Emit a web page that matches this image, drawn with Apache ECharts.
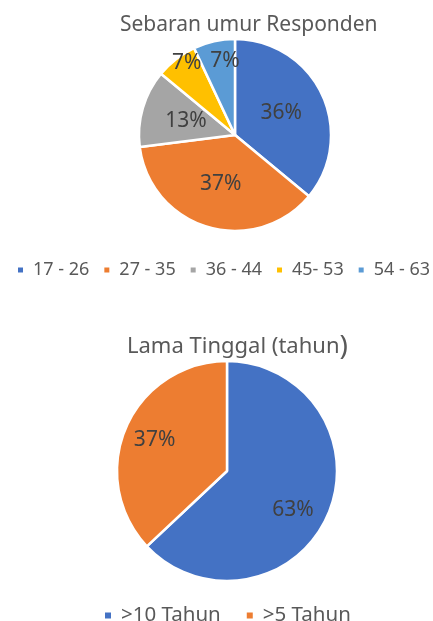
<!DOCTYPE html>
<html>
<head>
<meta charset="utf-8">
<script src="https://cdn.jsdelivr.net/npm/echarts@6/dist/echarts.min.js"></script>
<style>
  html, body { margin: 0; padding: 0; background: #fff; }
  #main { width: 433px; height: 621px; }
</style>
</head>
<body>
<div id="main"></div>
<script>
// data (percent)
var ageNames = ['17 - 26', '27 - 35', '36 - 44', '45- 53', '54 - 63'];
var agePercent = [36, 37, 13, 7, 7];
var stayNames = ['>10 Tahun', '>5 Tahun'];
var stayPercent = [63, 37];

var ageColors = ['#4472C4', '#ED7D31', '#A5A5A5', '#FFC000', '#5B9BD5'];
var stayColors = ['#4472C4', '#ED7D31'];

// label nudges: radial stretch from the half-radius spot, and a small turn (deg)
var agePush = [1, 1, 1, 1.7, 1.47];
var ageTurn = [0, 0, 0, 4, 5];
var stayPush = [1.32, 1.36];
var stayTurn = [7, 0];

var FONT = '"Noto Sans", sans-serif';

function makeData(names, values, colors) {
  return names.map(function (n, i) {
    return { name: n, value: values[i], itemStyle: { color: colors[i] } };
  });
}

function pushOut(cx, cy, factors, turns) {
  return function (p) {
    var r = p.labelRect;
    var lx = r.x + r.width / 2 - cx, ly = r.y + r.height / 2 - cy;
    var f = factors[p.dataIndex];
    var a = turns[p.dataIndex] * Math.PI / 180;
    var nx = (lx * Math.cos(a) - ly * Math.sin(a)) * f;
    var ny = (lx * Math.sin(a) + ly * Math.cos(a)) * f;
    return { dx: nx - lx, dy: ny - ly };
  };
}

var chart = echarts.init(document.getElementById('main'));

var option = {
  backgroundColor: '#fff',
  animation: false,
  title: [
    {
      text: 'Sebaran umur Responden',
      left: 115,
      top: 10,
      textStyle: { fontFamily: FONT, fontSize: 21, fontWeight: 'normal', color: '#595959' }
    },
    {
      text: '{a|Lama Tinggal (tahun}{b|)}',
      left: 122,
      top: 328,
      textStyle: {
        fontWeight: 'normal',
        rich: {
          a: { fontFamily: FONT, fontSize: 22, fontWeight: 'normal', color: '#595959' },
          b: { fontFamily: FONT, fontSize: 28, fontWeight: 'normal', color: '#595959' }
        }
      }
    }
  ],
  legend: [
    {
      data: ageNames,
      left: 11,
      top: 256,
      width: 425,
      icon: 'rect',
      itemWidth: 7,
      itemHeight: 7,
      itemGap: 13,
      textStyle: { fontFamily: FONT, fontSize: 18, color: '#595959', padding: [0, 0, 0, 4] }
    },
    {
      data: stayNames,
      left: 98,
      top: 600,
      icon: 'rect',
      itemWidth: 8,
      itemHeight: 8,
      itemGap: 24,
      textStyle: { fontFamily: FONT, fontSize: 20.5, color: '#595959', padding: [0, 0, 0, 4] }
    }
  ],
  series: [
    {
      name: 'Sebaran umur Responden',
      type: 'pie',
      center: [235, 135],
      radius: 96,
      startAngle: 90,
      clockwise: true,
      itemStyle: { borderColor: '#fff', borderWidth: 2.5 },
      label: {
        position: 'inside',
        formatter: '{c}%',
        fontFamily: FONT,
        fontSize: 21,
        color: '#404040'
      },
      labelLine: { show: false },
      labelLayout: pushOut(235, 135, agePush, ageTurn),
      emphasis: { disabled: true },
      data: makeData(ageNames, agePercent, ageColors)
    },
    {
      name: 'Lama Tinggal (tahun)',
      type: 'pie',
      center: [227, 471],
      radius: 110,
      startAngle: 90,
      clockwise: true,
      itemStyle: { borderColor: '#fff', borderWidth: 2.5 },
      label: {
        position: 'inside',
        formatter: '{c}%',
        fontFamily: FONT,
        fontSize: 21,
        color: '#404040'
      },
      labelLine: { show: false },
      labelLayout: pushOut(227, 471, stayPush, stayTurn),
      emphasis: { disabled: true },
      data: makeData(stayNames, stayPercent, stayColors)
    }
  ]
};

chart.setOption(option);
</script>
</body>
</html>
